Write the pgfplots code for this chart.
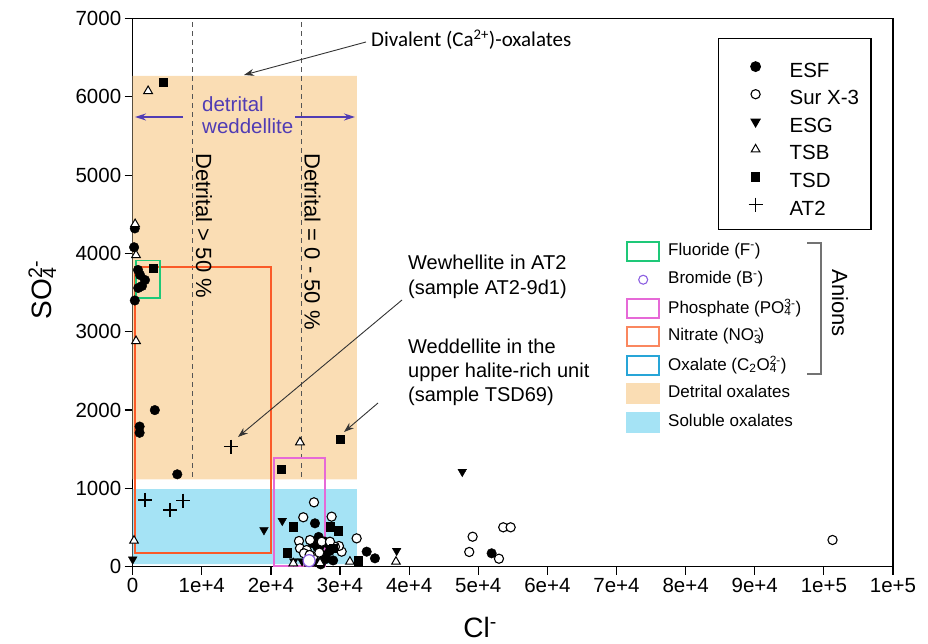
\documentclass[border=0pt]{standalone}
\usepackage{pgfplots}
\pgfplotsset{compat=1.18}
\usepackage{fontspec}
\setmainfont{Liberation Sans}
\newfontfamily\carlito{Carlito}
\usetikzlibrary{arrows.meta}
\definecolor{detrital}{RGB}{250,221,180}
\definecolor{soluble}{RGB}{165,227,245}
\definecolor{nitrate}{RGB}{250,90,40}
\definecolor{nitrateleg}{RGB}{250,135,95}
\definecolor{fluorgreen}{RGB}{30,200,120}
\definecolor{phosph}{RGB}{230,105,215}
\definecolor{oxal}{RGB}{40,165,215}
\definecolor{bromide}{RGB}{140,95,225}
\definecolor{wedd}{RGB}{80,60,180}
\definecolor{dashg}{RGB}{85,85,85}
\newcommand{\fs}[1]{\fontsize{#1pt}{#1pt}\selectfont}
\newcommand{\subsup}[2]{\rlap{\textsubscript{#1}}\textsuperscript{#2}}
\pgfplotsset{
  samplegimg/.style={legend image code/.code={\path[draw=none,fill=none] (-25pt,-7.5pt) rectangle (8pt,13.5pt); \draw[##1] plot coordinates {(0pt,0pt)};}},
}
\begin{document}
\begin{tikzpicture}[x=1pt,y=1pt]
\path[use as bounding box] (0,0) rectangle (928,644);
\begin{axis}[
  at={(132.7pt,77.3pt)}, anchor=south west,
  width=760.3pt, height=548.1pt, scale only axis,
  xmin=0, xmax=110000, ymin=0, ymax=7000,
  clip=false, scaled x ticks=false, scaled y ticks=false,
  axis line style={line width=1.2pt},
  xtick={0,10000,20000,30000,40000,50000,60000,70000,80000,90000,100000,110000},
  xticklabels={0,1e+4,2e+4,3e+4,4e+4,5e+4,6e+4,7e+4,8e+4,9e+4,1e+5,1e+5},
  ytick={0,1000,2000,3000,4000,5000,6000,7000},
  yticklabels={0,1000,2000,3000,4000,5000,6000,7000},
  xtick pos=bottom, ytick pos=left,
  tick align=outside, major tick length=8pt,
  tick style={black, line width=1.2pt},
  tick label style={font=\fs{20.5}},
  xlabel={Cl\textsuperscript{-}}, ylabel={SO\subsup{4}{2-}},
  xlabel style={at={(axis description cs:0.457,-0.111)}, anchor=center, font=\fs{28}},
  ylabel style={at={(axis description cs:-0.119,0.505)}, anchor=center, font=\fs{28}},
  legend style={at={(axis description cs:0.7698,0.9646)}, anchor=north west,
    draw=black, line width=1.2pt, fill=white, inner xsep=12pt, inner ysep=14.5pt,
    row sep=3.5pt, column sep=26pt, font=\fs{20.5},
    nodes={inner sep=0pt, text depth=}, cells={anchor=west}},
]
% shaded zones
\addplot[draw=none, fill=detrital, forget plot] coordinates {(0,1116) (32450,1116) (32450,6267) (0,6267) (0,1116)};
\addplot[draw=none, fill=soluble, forget plot] coordinates {(0,34) (32450,34) (32450,992) (0,992) (0,34)};
% dashed detrital limits
\addplot[dashg, line width=1pt, dash pattern=on 5pt off 4pt, forget plot] coordinates {(8680,1150) (8680,7000)};
\addplot[dashg, line width=1pt, dash pattern=on 5pt off 4pt, forget plot] coordinates {(24450,1150) (24450,7000)};
% anion rectangles
\addplot[nitrate, line width=1.8pt, line cap=rect, forget plot] coordinates {(290,171) (19960,171) (19960,3823) (290,3823) (290,171)};
\addplot[fluorgreen, line width=1.8pt, line cap=rect, forget plot] coordinates {(430,3430) (3950,3430) (3950,3910) (430,3910) (430,3430)};
\addplot[phosph, line width=1.8pt, line cap=rect, forget plot] coordinates {(20480,10) (27770,10) (27770,1392) (20480,1392) (20480,10)};
% samples
\addplot[only marks, mark=*, mark size=4.8pt, mark options={fill=black, draw=black}, samplegimg] coordinates {
(300,4320) (200,4080) (770,3790) (1070,3725) (1780,3661) (1345,3585) (800,3560) (300,3400)
(3200,2000) (1000,1790) (1000,1710) (6450,1180) (26370,554) (33850,192) (35050,107) (51930,171)
(26000,300) (27000,250) (27500,150) (28000,100) (26500,60) (28500,200) (27800,320) (29000,80) (27200,30)
(26700,250) (27900,120) (28100,300) (26900,380)};
\addlegendentry{\rule{0pt}{21pt}ESF}
\addplot[only marks, mark=*, mark size=4.6pt, mark options={fill=white, draw=black, line width=1.1pt}, samplegimg] coordinates {
(26230,822) (24680,631) (28780,639) (32400,362) (24060,328) (25650,341) (30230,192) (29840,264)
(27340,319) (24200,235) (25170,213) (29260,255) (24780,171) (26120,128) (28540,319) (25600,150) (27000,180)
(49180,383) (48690,188) (53610,503) (54680,503) (52990,102) (101250,341)};
\addlegendentry{\rule{0pt}{21pt}Sur X-3}
\addplot[only marks, mark=triangle*, mark size=5pt, mark options={rotate=180, fill=black, draw=black}, samplegimg] coordinates {
(47680,1213) (0,94) (18990,469) (21640,587) (38190,204) (23300,70) (24500,70)};
\addlegendentry{\rule{0pt}{21pt}ESG}
\addplot[only marks, mark=triangle*, mark size=5pt, mark options={fill=white, draw=black, line width=1pt}, samplegimg] coordinates {
(2230,6075) (350,4376) (480,3980) (480,2882) (190,332) (24200,1589) (31430,64) (38090,64) (23230,43) (27100,47) (25500,40)};
\addlegendentry{\rule{0pt}{21pt}TSB}
\addplot[only marks, mark=square*, mark size=4.2pt, mark options={fill=black, draw=black}, samplegimg] coordinates {
(4380,6190) (2980,3810) (23230,511) (28540,511) (29740,460) (22360,179) (21450,1244) (29990,1627) (32640,77) (29020,235)};
\addlegendentry{\rule{0pt}{21pt}TSD}
\addplot[only marks, mark=+, mark size=7pt, mark options={draw=black, line width=1.6pt}, samplegimg] coordinates {
(1780,852) (5400,724) (7320,843) (14220,1533)};
\addlegendentry{\rule{0pt}{21pt}AT2}
% bromide
\addplot[only marks, mark=*, mark size=6pt, mark options={fill=white, draw=bromide, line width=1.2pt}, forget plot] coordinates {(25520,77)};
\end{axis}
% anion legend
\begin{axis}[
  at={(132.7pt,77.3pt)}, anchor=south west,
  width=760.3pt, height=548.1pt, scale only axis,
  hide axis, xmin=0, xmax=1, ymin=0, ymax=1,
  legend style={at={(axis description cs:0.6488,0.5951)}, anchor=north west,
    draw=none, fill=none, inner sep=0pt, row sep=7.5pt, column sep=8pt, font=\fs{17},
    nodes={inner sep=0pt, text depth=}, cells={anchor=west}},
]
\addplot[draw=none, forget plot] coordinates {(0.5,0.5)};
\addlegendimage{legend image code/.code={\path[draw=none,fill=none] (0pt,-10.5pt) rectangle (34pt,10.5pt); \draw[draw=fluorgreen, line width=1.8pt, fill=none] (0.9pt,-9.6pt) rectangle (33.1pt,9.6pt);}}
\addlegendentry{\rule[-4.4pt]{0pt}{16.6pt}Fluoride (F\textsuperscript{-})}
\addlegendimage{legend image code/.code={\path[draw=none,fill=none] (0pt,-10.5pt) rectangle (34pt,10.5pt); \draw[draw=bromide, line width=1.1pt, fill=none] (17pt,0pt) circle (4.5pt);}}
\addlegendentry{\rule[-4.4pt]{0pt}{16.6pt}Bromide (B\textsuperscript{-})}
\addlegendimage{legend image code/.code={\path[draw=none,fill=none] (0pt,-10.5pt) rectangle (34pt,10.5pt); \draw[draw=phosph, line width=1.8pt, fill=none] (0.9pt,-9.6pt) rectangle (33.1pt,9.6pt);}}
\addlegendentry{\rule[-4.4pt]{0pt}{16.6pt}Phosphate (PO\subsup{4}{3-})}
\addlegendimage{legend image code/.code={\path[draw=none,fill=none] (0pt,-10.5pt) rectangle (34pt,10.5pt); \draw[draw=nitrateleg, line width=1.8pt, fill=none] (0.9pt,-9.6pt) rectangle (33.1pt,9.6pt);}}
\addlegendentry{\rule[-4.4pt]{0pt}{16.6pt}Nitrate (NO\subsup{3}{-})}
\addlegendimage{legend image code/.code={\path[draw=none,fill=none] (0pt,-10.5pt) rectangle (34pt,10.5pt); \draw[draw=oxal, line width=1.8pt, fill=none] (0.9pt,-9.6pt) rectangle (33.1pt,9.6pt);}}
\addlegendentry{\rule[-4.4pt]{0pt}{16.6pt}Oxalate (C\textsubscript{2}O\subsup{4}{2-})}
\addlegendimage{legend image code/.code={\path[draw=none,fill=none] (0pt,-10.5pt) rectangle (34pt,10.5pt); \fill[fill=detrital, draw=none] (0pt,-10.5pt) rectangle (34pt,10.5pt);}}
\addlegendentry{\rule[-4.4pt]{0pt}{16.6pt}Detrital oxalates}
\addlegendimage{legend image code/.code={\path[draw=none,fill=none] (0pt,-10.5pt) rectangle (34pt,10.5pt); \fill[fill=soluble, draw=none] (0pt,-10.5pt) rectangle (34pt,10.5pt);}}
\addlegendentry{\rule[-4.4pt]{0pt}{16.6pt}Soluble oxalates}
\end{axis}
% annotations (pixel coordinates: x, 644 - y)
\node[anchor=base west, font=\carlito\fs{21}, inner sep=0pt] at (371,597) {Divalent (Ca\textsuperscript{2+})-oxalates};
\draw[-{Stealth[length=10pt,width=7pt]}, line width=0.9pt, black!80] (366,602) -- (244,569);
\node[anchor=base west, font=\fs{20}, inner sep=0pt] at (408,374) {Wewhellite in AT2};
\node[anchor=base west, font=\fs{20}, inner sep=0pt] at (408,349) {(sample AT2-9d1)};
\draw[-{Stealth[length=10pt,width=7pt]}, line width=0.9pt, black!80] (402,344) -- (238,207);
\node[anchor=base west, font=\fs{20}, inner sep=0pt] at (408,290) {Weddellite in the};
\node[anchor=base west, font=\fs{20}, inner sep=0pt] at (408,266) {upper halite-rich unit};
\node[anchor=base west, font=\fs{20}, inner sep=0pt] at (408,242) {(sample TSD69)};
\draw[-{Stealth[length=10pt,width=7pt]}, line width=0.9pt, black!80] (378,241) -- (344,212);
% detrital weddellite
\node[anchor=base west, font=\fs{20.5}, text=wedd, inner sep=0pt] at (202,532) {detrital};
\node[anchor=base west, font=\fs{20.5}, text=wedd, inner sep=0pt] at (202,510) {weddellite};
\draw[-{Stealth[length=11pt,width=7pt]}, line width=1.3pt, wedd] (183,527) -- (135,527);
\draw[-{Stealth[length=11pt,width=7pt]}, line width=1.3pt, wedd] (295,527) -- (355,527);
% rotated detrital texts
\node[rotate=-90, anchor=west, font=\fs{22}, inner sep=0pt] at (204,491) {Detrital > 50 \%};
\node[rotate=-90, anchor=west, font=\fs{22}, inner sep=0pt] at (312.5,491) {Detrital = 0 - 50 \%};
% anion bracket
\draw[black!55, line width=1.2pt] (807,401) -- (821,401) -- (821,270) -- (807,270);
\node[rotate=-90, font=\fs{22}, inner sep=0pt] at (840,340.7) {Anions};
\end{tikzpicture}
\end{document}
